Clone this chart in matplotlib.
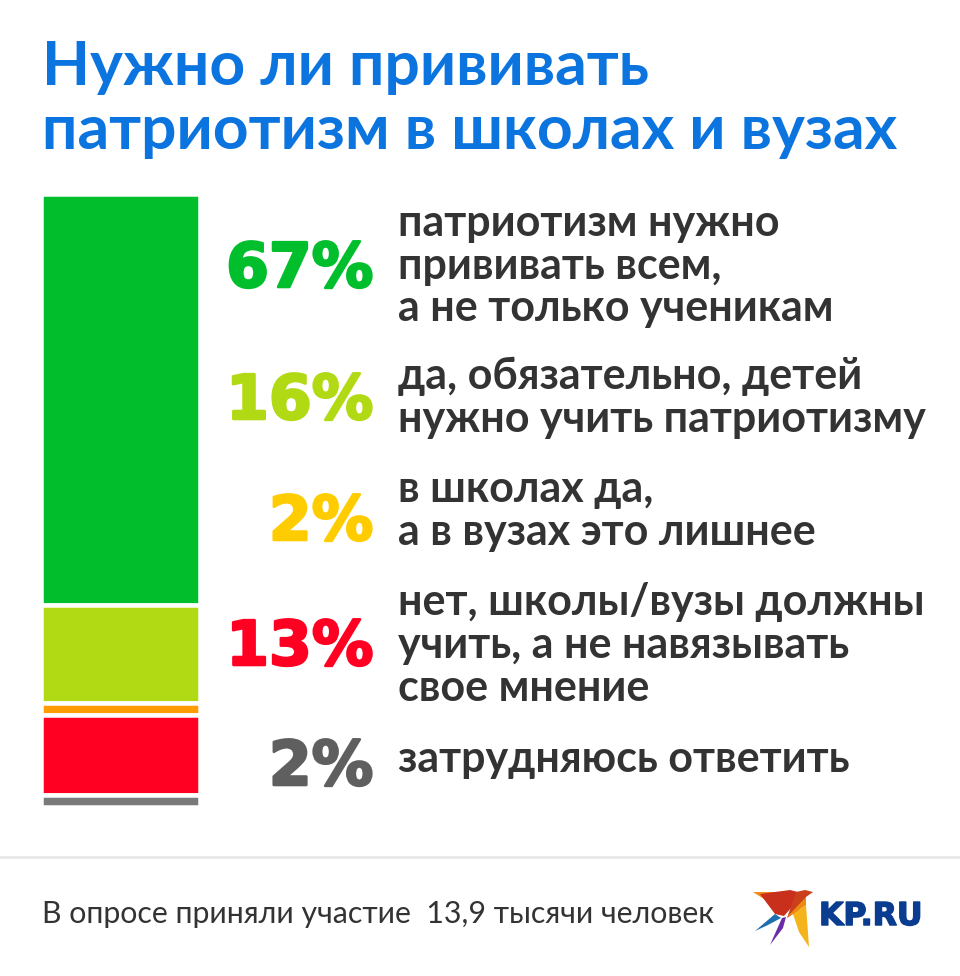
import matplotlib
matplotlib.use("Agg")
import matplotlib.pyplot as plt
from matplotlib.patches import Polygon
import matplotlib.patheffects as pe

W, H = 960, 976
DPI = 100
plt.rcParams['font.family'] = ['Lato', 'Open Sans', 'DejaVu Sans']

title_lines = ["Нужно ли прививать", "патриотизм в школах и вузах"]
values = [67, 16, 2, 13, 2]
pct_labels = ["67%", "16%", "2%", "13%", "2%"]
bar_colors = ["#00BE2C", "#B2DA14", "#FF9C00", "#FF0022", "#7A7A7A"]
pct_colors = ["#00BE2C", "#B2DA14", "#FFCC00", "#FF0022", "#5F5F5F"]
answers = [
    ["патриотизм нужно", "прививать всем,", "а не только ученикам"],
    ["да, обязательно, детей", "нужно учить патриотизму"],
    ["в школах да,", "а в вузах это лишнее"],
    ["нет, школы/вузы должны", "учить, а не навязывать", "свое мнение"],
    ["затрудняюсь ответить"],
]
footer = "В опросе приняли участие  13,9 тысячи человек"

pct_base = [287, 419, 540, 665, 785]
ans_base = [[236, 279, 321], [389, 432], [502, 545], [615, 658, 701], [772]]

fig = plt.figure(figsize=(W / DPI, H / DPI), dpi=DPI, facecolor="white")

def fx(x): return x / W
def fy(y): return 1 - y / H

# stacked bar
top, bot = 193.7, 807.3
left, right = 40.75, 200.25
ax = fig.add_axes([fx(left), fy(bot), (right - left) / W, (bot - top) / H])
ax.set_xlim(0, 1)
ax.set_ylim(100, 0)
ax.axis("off")
start = 0
for v, c in zip(values, bar_colors):
    ax.bar(0.5, v, width=1, bottom=start, color=c, edgecolor="white",
           linewidth=4.5 * 72 / DPI, clip_on=False)
    start += v

# title
for line, y in zip(title_lines, [85, 149]):
    fig.text(fx(42), fy(y), line, color="#0B74DE", fontsize=62.4 * 72 / DPI,
             fontweight="bold", va="baseline", ha="left")

# percents and answers
for lab, col, y in zip(pct_labels, pct_colors, pct_base):
    t = fig.text(fx(373.5), fy(y), lab, color=col, fontsize=61.5 * 72 / DPI, family="DejaVu Sans",
                 fontweight="bold", va="baseline", ha="right")
    t.set_path_effects([pe.withStroke(linewidth=2.6 * 72 / DPI, foreground=col)])
for lines, ys in zip(answers, ans_base):
    for line, y in zip(lines, ys):
        fig.text(fx(398), fy(y), line, color="#333333", fontsize=43 * 72 / DPI,
                 fontweight="bold", va="baseline", ha="left")

# footer
fig.add_artist(plt.Line2D([0, 1], [fy(857), fy(857)], color="#E6E6E6", lw=2.5 * 72 / DPI))
fig.text(fx(42), fy(923), footer, color="#333333", fontsize=30.2 * 72 / DPI,
         va="baseline", ha="left")

# logo
lg = fig.add_axes([0, 0, 1, 1], facecolor="none")
lg.set_xlim(0, W)
lg.set_ylim(H, 0)
lg.axis("off")
shapes = [
    ("#F08A1D", [(753, 892), (795, 892), (784, 899), (778, 908)]),
    ("#C9301C", [(760, 894), (790, 890), (798, 892), (791, 908), (784, 916), (775, 914)]),
    ("#C9401A", [(796, 892), (805, 890), (813, 892), (806, 897), (799, 910), (787, 918)]),
    ("#F5B31C", [(793, 914), (806, 905), (809, 947), (799, 932)]),
    ("#EE8A12", [(787, 917), (806, 897), (806, 905), (793, 914)]),
    ("#6A2CA8", [(770, 945), (782, 918), (786, 917), (783, 928)]),
    ("#1F6FB0", [(755, 931), (775, 914), (781, 918), (768, 925)]),
]
for col, pts in shapes:
    lg.add_patch(Polygon(pts, closed=True, facecolor=col, edgecolor="none"))
kp = lg.text(819, 925, "KP.RU", color="#0A3D8F", fontsize=31.5 * 72 / DPI, family="DejaVu Sans",
             fontweight="bold", va="baseline", ha="left")
kp.set_path_effects([pe.withStroke(linewidth=1.5 * 72 / DPI, foreground="#0A3D8F")])

fig.savefig("out.png", dpi=DPI, facecolor="white")
